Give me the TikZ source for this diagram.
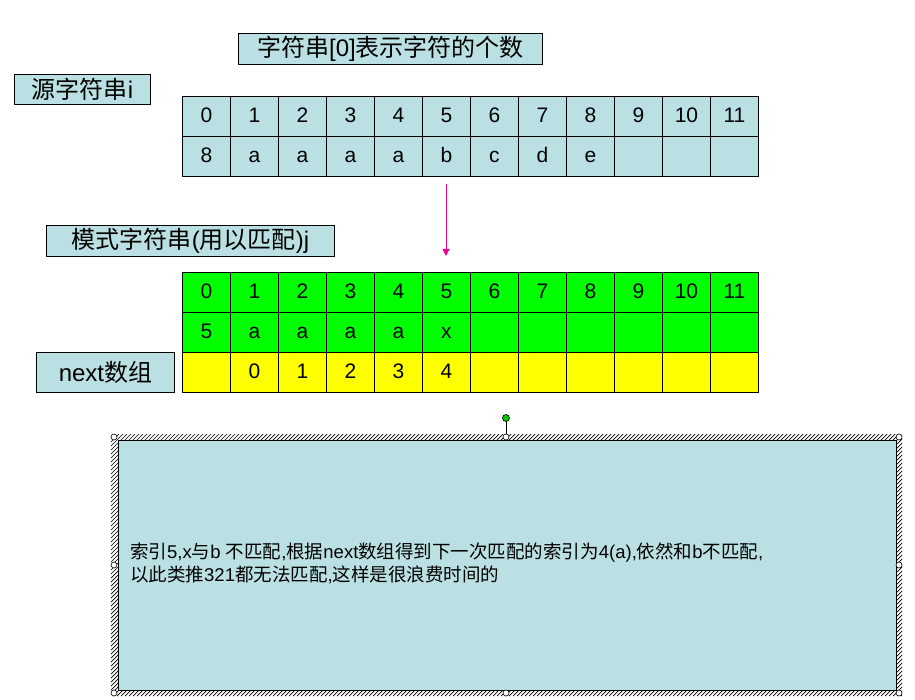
\documentclass[tikz,border=0pt]{standalone}
\usepackage{fontspec}
\setmainfont{Liberation Sans}
\newfontfamily\cjk{Noto Sans CJK SC}
\usetikzlibrary{arrows.meta}
\definecolor{lblue}{RGB}{187,224,227}
\definecolor{pgreen}{RGB}{0,255,0}
\definecolor{pyellow}{RGB}{255,255,0}
\definecolor{handlegreen}{RGB}{0,200,0}
\tikzset{
  lab/.style={draw=black, line width=0.9pt, fill=lblue, inner sep=0pt, anchor=north west, font=\fontsize{24}{28}\selectfont},
  cell/.style={draw=black, line width=0.9pt, inner sep=0pt, minimum width=48pt, minimum height=40pt, anchor=north west, text height=15pt, text depth=2pt, font=\fontsize{21}{24}\selectfont},
  bcell/.style={cell, fill=lblue},
  gcell/.style={cell, fill=pgreen},
  ycell/.style={cell, fill=pyellow},
  handle/.style={draw=black, line width=0.6pt, fill=white},
  hatch/.style={draw=black, line width=0.7pt},
  pointer/.style={draw=magenta, line width=1pt, -{Triangle[width=7pt,length=7pt]}}
}
\begin{document}
\begin{tikzpicture}[x=1pt,y=-1pt]
\useasboundingbox (0,0) rectangle (915,700);

% labels
\node[lab, minimum width=304pt, minimum height=31pt] (title) at (238,33) {{\cjk 字符串}[0]{\cjk 表示字符的个数}};
\node[lab, minimum width=136pt, minimum height=30pt] (src) at (14,74) {{\cjk 源字符串}i};
\node[lab, minimum width=288pt, minimum height=31pt] (pat) at (46,225) {{\cjk 模式字符串}({\cjk 用以匹配})j};
\node[lab, minimum width=138pt, minimum height=40pt] (nxt) at (36,352) {next{\cjk 数组}};

% source table
\foreach \i in {0,...,11} {
  \node[bcell] (a\i) at ({182+48*\i},96) {\i};
}
\foreach \v [count=\k from 0] in {8,a,a,a,a,b,c,d,e,{},{},{}} {
  \node[bcell] (b\k) at ({182+48*\k},136) {\v};
}

% pattern table
\foreach \i in {0,...,11} {
  \node[gcell] (g\i) at ({182+48*\i},272) {\i};
}
\foreach \v [count=\k from 0] in {5,a,a,a,a,x,{},{},{},{},{},{}} {
  \node[gcell] (h\k) at ({182+48*\k},312) {\v};
}
\foreach \v [count=\k from 0] in {{},0,1,2,3,4,{},{},{},{},{},{}} {
  \node[ycell] (y\k) at ({182+48*\k},352) {\v};
}

% arrow
\coordinate (p1) at (446,184);
\coordinate (p2) at (446,256);
\draw[pointer] (p1) -- (p2);

% selected text box: hatched selection frame
\begin{scope}
  \clip (111,434) rectangle (902,696);
  \foreach \t in {-262,-258,...,792} {
    \draw[hatch] ({111+\t},696) -- ({373+\t},434);
  }
\end{scope}
\node[draw=black, line width=0.9pt, fill=lblue, minimum width=778pt, minimum height=250pt, anchor=north west, inner sep=0pt] (box) at (118,440) {};
\node[anchor=north west, align=left, inner sep=0pt, font=\fontsize{18.5}{23}\selectfont] (note) at (130,543)
 {{\cjk 索引}5,x{\cjk 与}b {\cjk 不匹配},{\cjk 根据}next{\cjk 数组得到下一次匹配的索引为}4(a),{\cjk 依然和}b{\cjk 不匹配},\\
  {\cjk 以此类推}321{\cjk 都无法匹配},{\cjk 这样是很浪费时间的}};

% selection handles
\coordinate (rot) at (506,418);
\coordinate (tm) at (506,437);
\draw[line width=0.8pt] (rot) -- (tm);
\foreach \p in {(114,437),(506,437),(899,437),(114,565),(899,565),(114,693),(506,693),(899,693)} {
  \draw[handle] \p circle (3pt);
}
\draw[line width=0.6pt, fill=handlegreen] (rot) circle (3.5pt);
\end{tikzpicture}
\end{document}
